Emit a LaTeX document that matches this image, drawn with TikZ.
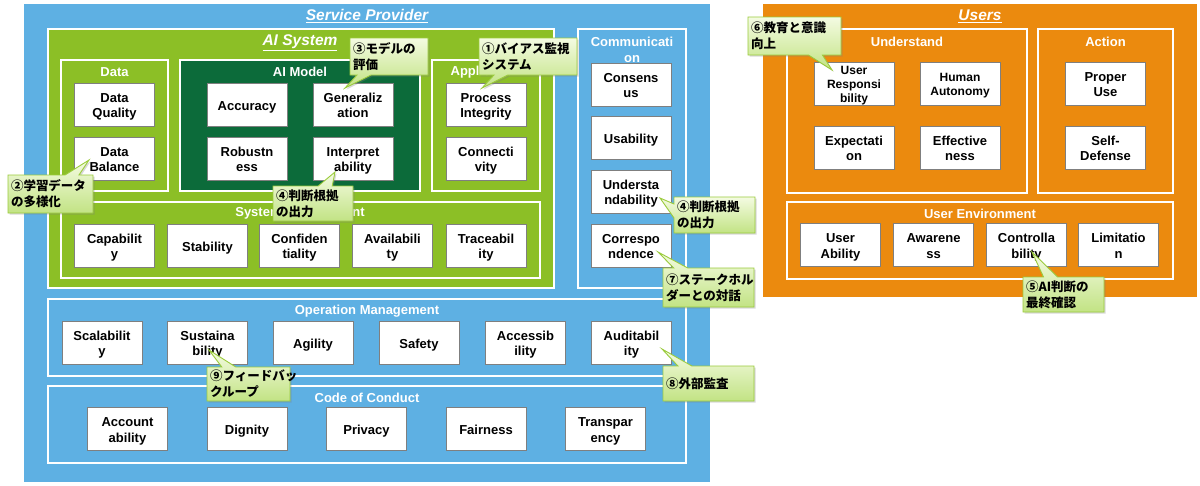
\documentclass[tikz,border=0pt]{standalone}
\usepackage{fontspec}
\setmainfont{Liberation Sans}
\newfontfamily\cjk{Noto Sans CJK JP}
\usetikzlibrary{shapes.callouts,shadows}
\definecolor{spblue}{HTML}{5EB0E3}
\definecolor{aigreen}{HTML}{8CBF26}
\definecolor{dkgreen}{HTML}{0C6B3A}
\definecolor{usorange}{HTML}{EB8A0E}
\definecolor{cobord}{HTML}{9BCB3C}
\definecolor{cotop}{HTML}{F4FBE2}
\definecolor{cobot}{HTML}{C2E384}
\definecolor{cellbord}{HTML}{7F7F7F}
\newcommand\cl[1]{\raisebox{-2.5pt}[\height][\depth]{\begin{tabular}{@{}c@{}}#1\end{tabular}}}
\begin{document}
\begin{tikzpicture}[x=1pt,y=-1pt,
  cont/.style={draw=white,line width=2.5pt},
  cell/.style={draw=cellbord,line width=0.9pt,fill=white,minimum width=80pt,minimum height=43pt,inner sep=0pt,font=\fontsize{13}{15.5}\selectfont\bfseries},
  small/.style={font=\fontsize{12}{14}\selectfont\bfseries},
  ttl/.style={text=white,font=\fontsize{13}{15.5}\selectfont\bfseries,inner sep=0pt,align=center},
  big/.style={text=white,font=\fontsize{15.5}{18}\selectfont\bfseries\itshape,inner sep=0pt},
  note/.style={rectangle callout,draw=cobord,line width=0.9pt,top color=cotop,bottom color=cobot,
    inner xsep=3pt,inner ysep=2pt,align=left,font=\fontsize{12.5}{16}\selectfont\cjk\bfseries,
    callout pointer width=14pt,drop shadow={shadow xshift=1.5pt,shadow yshift=-1.5pt,opacity=0.3}}]
\useasboundingbox (0,0) rectangle (1200,485);
\fill[white] (0,0) rectangle (1200,485);
% ---------------- Service Provider
\fill[spblue] (24,4) rectangle (710,482);
\node[big] (tsp) at (367,16) {\underline{Service Provider}};
\draw[cont,fill=aigreen] (48,29) rectangle (554,288);
\node[big] (tai) at (300,43) {\underline{AI System}};
\draw[cont,fill=aigreen] (61,60) rectangle (168,191);
\draw[cont,fill=dkgreen] (180,60) rectangle (420,191);
\draw[cont,fill=aigreen] (432,60) rectangle (540,191);
\draw[cont,fill=aigreen] (61,202) rectangle (540,278);
\draw[cont,fill=spblue] (578,29) rectangle (686,288);
\draw[cont,fill=spblue] (48,299) rectangle (686,376);
\draw[cont,fill=spblue] (48,386) rectangle (686,463);
\node[ttl] (tdata) at (114.5,72) {Data};
\node[ttl] (tmodel) at (300,72) {AI Model};
\node[ttl] (tapp) at (486,72) {Application};
\node[ttl] (tsys) at (300,213) {System Management};
\node[ttl] (tcom) at (632,50) {Communicati\\on};
\node[ttl] (tops) at (367,311) {Operation Management};
\node[ttl] (tcode) at (367,398) {Code of Conduct};
% cells
\node[cell] (dq) at (114.5,104.5) {\cl{Data\\Quality}};
\node[cell] (db) at (114.5,158.5) {\cl{Data\\Balance}};
\node[cell] (acc) at (247,104.5) {\cl{Accuracy}};
\node[cell] (gen) at (353,104.5) {\cl{Generaliz\\ation}};
\node[cell] (rob) at (247,158.5) {\cl{Robustn\\ess}};
\node[cell] (int) at (353,158.5) {\cl{Interpret\\ability}};
\node[cell] (pi) at (486,104.5) {\cl{Process\\Integrity}};
\node[cell] (con) at (486,158.5) {\cl{Connecti\\vity}};
\node[cell] (cap) at (114.5,245.5) {\cl{Capabilit\\y}};
\node[cell] (sta) at (207.5,245.5) {\cl{Stability}};
\node[cell] (cnf) at (299.5,245.5) {\cl{Confiden\\tiality}};
\node[cell] (ava) at (392.5,245.5) {\cl{Availabili\\ty}};
\node[cell] (tra) at (486,245.5) {\cl{Traceabil\\ity}};
\node[cell] (cns) at (631,84.5) {\cl{Consens\\us}};
\node[cell] (usa) at (631,137.5) {\cl{Usability}};
\node[cell] (und) at (631,191.5) {\cl{Understa\\ndability}};
\node[cell] (cor) at (631,245.5) {\cl{Correspo\\ndence}};
\node[cell] (sca) at (102,342.5) {\cl{Scalabilit\\y}};
\node[cell] (sus) at (207.5,342.5) {\cl{Sustaina\\bility}};
\node[cell] (agi) at (313,342.5) {\cl{Agility}};
\node[cell] (saf) at (419,342.5) {\cl{Safety}};
\node[cell] (acs) at (525.5,342.5) {\cl{Accessib\\ility}};
\node[cell] (aud) at (631.5,342.5) {\cl{Auditabil\\ity}};
\node[cell] (acn) at (127.5,429) {\cl{Account\\ability}};
\node[cell] (dig) at (247,429) {\cl{Dignity}};
\node[cell] (pri) at (366.5,429) {\cl{Privacy}};
\node[cell] (fai) at (486,429) {\cl{Fairness}};
\node[cell] (trn) at (605.5,429) {\cl{Transpar\\ency}};
% ---------------- Users
\fill[usorange] (763,4) rectangle (1197,297);
\node[big] (tus) at (980,16) {\underline{Users}};
\draw[cont,fill=usorange] (787,29) rectangle (1027,193);
\draw[cont,fill=usorange] (1038,29) rectangle (1173,193);
\draw[cont,fill=usorange] (787,202) rectangle (1173,279);
\node[ttl] (tund) at (907,42) {Understand};
\node[ttl] (tact) at (1105.5,42) {Action};
\node[ttl] (tenv) at (980,214) {User Environment};
\node[cell,small] (ures) at (854,83.5) {\cl{User\\Responsi\\bility}};
\node[cell,small] (hum) at (960,83.5) {\cl{Human\\Autonomy}};
\node[cell] (exp) at (854,147.5) {\cl{Expectati\\on}};
\node[cell] (eff) at (960,147.5) {\cl{Effective\\ness}};
\node[cell] (pro) at (1105.5,83.5) {\cl{Proper\\Use}};
\node[cell] (sel) at (1105.5,147.5) {\cl{Self-\\Defense}};
\node[cell] (uab) at (840.5,245) {\cl{User\\Ability}};
\node[cell] (awa) at (933.5,245) {\cl{Awarene\\ss}};
\node[cell] (ctl) at (1026.5,245) {\cl{Controlla\\bility}};
\node[cell] (lim) at (1118.5,245) {\cl{Limitatio\\n}};
% ---------------- callouts
\coordinate (p1) at (482,88);
\coordinate (p2) at (89,160);
\coordinate (p3) at (345,88);
\coordinate (p4a) at (335,172);
\coordinate (p4b) at (660,198);
\coordinate (p5) at (1032,252);
\coordinate (p6) at (832,70);
\coordinate (p7) at (658,252);
\coordinate (p8) at (662,349);
\coordinate (p9) at (209,350);
\node[note,minimum width=98pt,minimum height=37pt,text width=92pt,callout absolute pointer=(p1)] (c1) at (528,56.5) {①バイアス監視\\システム};
\node[note,minimum width=85pt,minimum height=38pt,text width=79pt,callout absolute pointer=(p2)] (c2) at (50.5,194) {②学習データ\\の多様化};
\node[note,minimum width=78pt,minimum height=37pt,text width=72pt,callout absolute pointer=(p3)] (c3) at (389,56.5) {③モデルの\\評価};
\node[note,minimum width=80pt,minimum height=35pt,text width=74pt,callout absolute pointer=(p4a)] (c4a) at (313,203.5) {④判断根拠\\の出力};
\node[note,minimum width=81pt,minimum height=36pt,text width=75pt,callout absolute pointer=(p4b)] (c4b) at (714.5,215) {④判断根拠\\の出力};
\node[note,minimum width=91pt,minimum height=39pt,text width=85pt,callout absolute pointer=(p7)] (c7) at (708.5,287.5) {⑦ステークホル\\ダーとの対話};
\node[note,minimum width=91pt,minimum height=35pt,text width=85pt,callout absolute pointer=(p8)] (c8) at (708.5,383.5) {⑧外部監査};
\node[note,minimum width=83pt,minimum height=34pt,text width=77pt,callout absolute pointer=(p9)] (c9) at (248.5,384) {⑨フィードバッ\\クループ};
\node[note,minimum width=93pt,minimum height=38pt,text width=87pt,callout absolute pointer=(p6)] (c6) at (794.5,36) {⑥教育と意識\\向上};
\node[note,minimum width=81pt,minimum height=35pt,text width=75pt,callout absolute pointer=(p5)] (c5) at (1063.5,294.5) {⑤AI判断の\\最終確認};
\end{tikzpicture}
\end{document}
